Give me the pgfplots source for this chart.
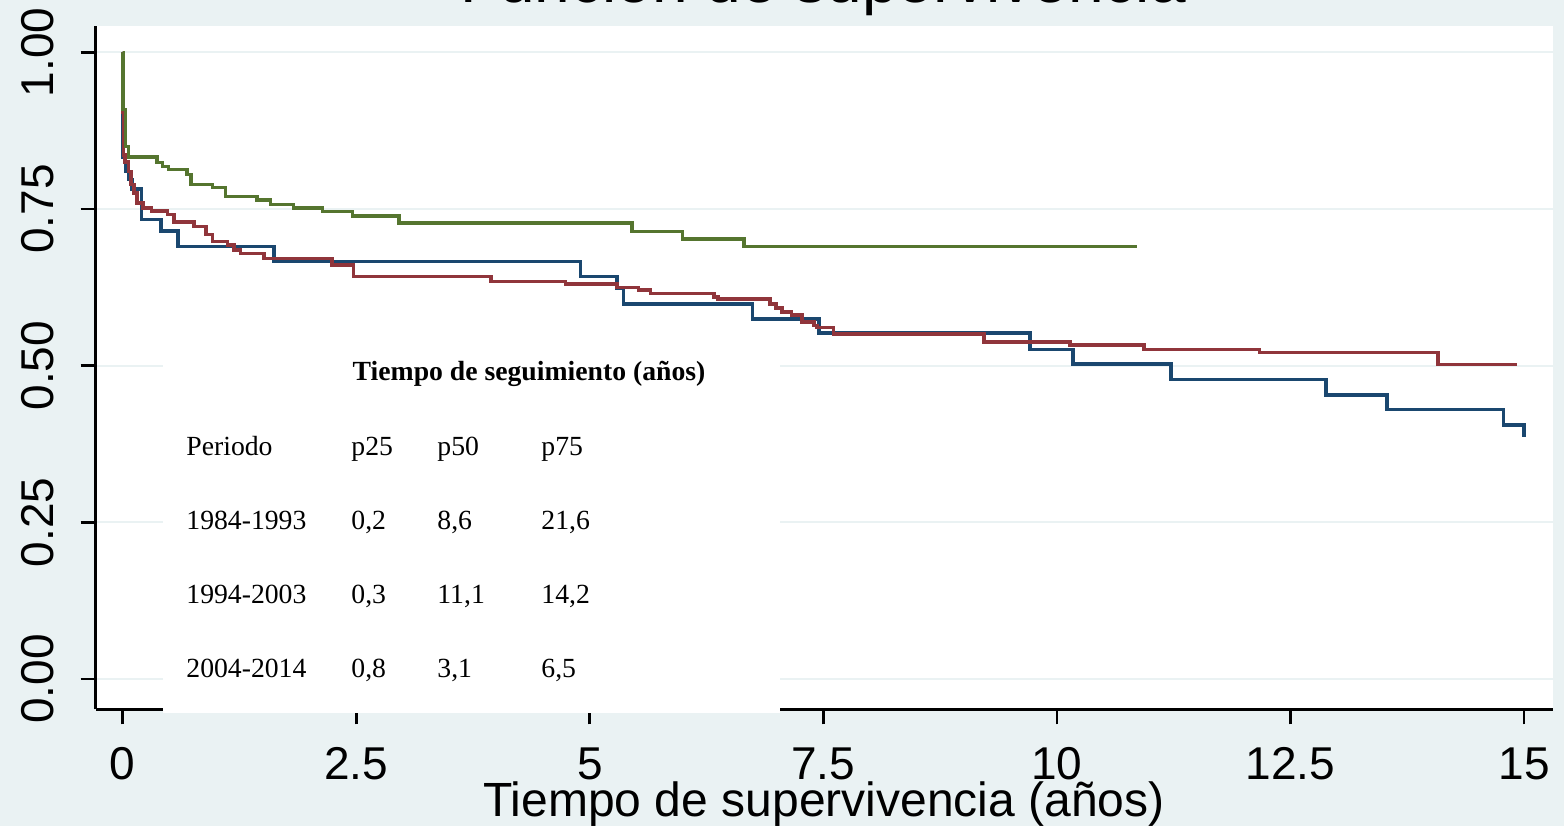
\documentclass[border=0pt]{standalone}
\usepackage{pgfplots}
\pgfplotsset{compat=1.18}
\usepackage{fontspec}
\setmainfont{Liberation Sans}
\newfontfamily\tablefont{Liberation Serif}

\definecolor{ltbluishgray}{RGB}{234,242,243}
\definecolor{snavy}{RGB}{26,71,111}
\definecolor{smaroon}{RGB}{144,53,59}
\definecolor{sgreen}{RGB}{85,117,47}

\begin{document}
\begin{tikzpicture}
\path[use as bounding box] (0,0) rectangle (782pt,413pt);
\fill[ltbluishgray] (0,0) rectangle (782pt,413pt);

\begin{axis}[
    at={(47.85pt,58.35pt)}, anchor=south west,
    scale only axis,
    width=728.65pt, height=341.65pt,
    xmin=-0.289, xmax=15.31,
    ymin=-0.0483, ymax=1.042,
    axis background/.style={fill=white},
    axis x line*=bottom, axis y line*=left,
    axis line style={black, line width=1.6pt, -},
    tick align=outside,
    major tick length=7.5pt,
    tick style={black, line width=1.4pt},
    xtick={0,2.5,5,7.5,10,12.5,15},
    xticklabels={0,2.5,5,7.5,10,12.5,15},
    ytick={0,0.25,0.5,0.75,1},
    yticklabels={0.00,0.25,0.50,0.75,1.00},
    ymajorgrids,
    grid style={ltbluishgray, line width=1pt},
    xticklabel style={font=\fontsize{23}{27}\selectfont, anchor=base, yshift=-27.5pt},
    yticklabel style={font=\fontsize{23}{27}\selectfont, rotate=90, anchor=base, yshift=13.5pt},
    const plot,
    every axis plot/.append style={line width=1.8pt, mark=none},
]
% 1984-1993
\addplot[snavy] coordinates {
(0,1.0) (0.005,0.833) (0.03,0.81) (0.06,0.797) (0.10,0.782) (0.20,0.733)
(0.41,0.715) (0.59,0.690) (1.62,0.666) (4.90,0.642) (5.29,0.623) (5.36,0.598)
(6.74,0.574) (7.45,0.552) (9.71,0.526) (10.17,0.503) (11.22,0.478)
(12.88,0.453) (13.53,0.430) (14.78,0.405) (15.0,0.386)};
% 1994-2003
\addplot[smaroon] coordinates {
(0,1.0) (0.005,0.904) (0.01,0.836) (0.025,0.825) (0.06,0.81) (0.086,0.789)
(0.12,0.776) (0.15,0.760) (0.22,0.752) (0.31,0.747) (0.48,0.741) (0.55,0.729)
(0.76,0.722) (0.89,0.709) (0.96,0.698) (1.12,0.693) (1.19,0.685) (1.26,0.679)
(1.51,0.671) (2.24,0.661) (2.47,0.642) (3.94,0.634) (4.74,0.630) (5.29,0.625)
(5.52,0.621) (5.65,0.615) (6.33,0.610) (6.37,0.606) (6.93,0.598) (6.99,0.592)
(7.06,0.586) (7.16,0.581) (7.27,0.570) (7.40,0.564) (7.43,0.561) (7.61,0.551)
(9.22,0.538) (10.14,0.533) (10.93,0.526) (12.17,0.521) (14.08,0.502) (14.92,0.502)};
% 2004-2014
\addplot[sgreen] coordinates {
(0,1.0) (0.005,0.909) (0.03,0.85) (0.06,0.833) (0.37,0.824) (0.425,0.818)
(0.49,0.813) (0.69,0.805) (0.73,0.789) (0.96,0.784) (1.10,0.770) (1.44,0.764)
(1.58,0.757) (1.83,0.752) (2.14,0.746) (2.46,0.739) (2.96,0.728) (5.45,0.714)
(5.99,0.702) (6.65,0.690) (10.86,0.690)};
\end{axis}

% inset table
\fill[white] (81.5pt,56.5pt) rectangle (390pt,243pt);
\begin{scope}[every node/.style={inner sep=0pt, font=\tablefont\fontsize{13.85}{16}\selectfont}]
\node[anchor=base west] at (176.15pt,222.5pt) {\bfseries Tiempo de seguimiento (años)};
\node[anchor=base west] at (93pt,185.5pt) {Periodo};
\node[anchor=base west] at (175.5pt,185.5pt) {p25};
\node[anchor=base west] at (218.5pt,185.5pt) {p50};
\node[anchor=base west] at (270.5pt,185.5pt) {p75};
\node[anchor=base west] at (93pt,148.5pt) {1984-1993};
\node[anchor=base west] at (175.5pt,148.5pt) {0,2};
\node[anchor=base west] at (218.5pt,148.5pt) {8,6};
\node[anchor=base west] at (270.5pt,148.5pt) {21,6};
\node[anchor=base west] at (93pt,111.5pt) {1994-2003};
\node[anchor=base west] at (175.5pt,111.5pt) {0,3};
\node[anchor=base west] at (218.5pt,111.5pt) {11,1};
\node[anchor=base west] at (270.5pt,111.5pt) {14,2};
\node[anchor=base west] at (93pt,74.5pt) {2004-2014};
\node[anchor=base west] at (175.5pt,74.5pt) {0,8};
\node[anchor=base west] at (218.5pt,74.5pt) {3,1};
\node[anchor=base west] at (270.5pt,74.5pt) {6,5};
\end{scope}

\node[anchor=base, inner sep=0pt, font=\fontsize{24}{28}\selectfont] at (412pt,5pt) {Tiempo de supervivencia (años)};
\node[anchor=base, inner sep=0pt, font=\fontsize{32}{38}\selectfont] at (411.5pt,411.5pt) {Función de supervivencia};
\end{tikzpicture}
\end{document}
